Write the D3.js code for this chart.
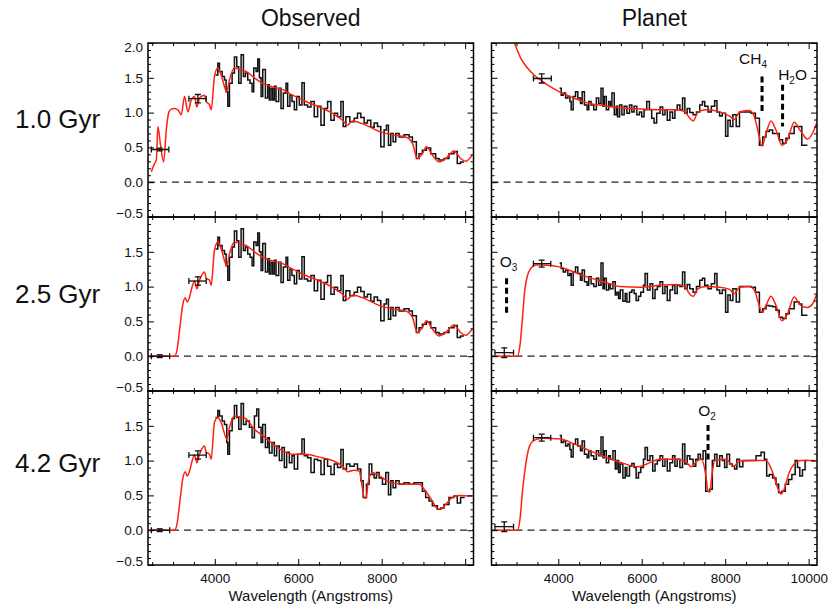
<!DOCTYPE html>
<html>
<head>
<meta charset="utf-8">
<script src="https://cdn.jsdelivr.net/npm/d3@7"></script>
<style>
  body { margin: 0; background: #fff; }
  svg { display: block; font-family: "Liberation Sans", Arial, sans-serif; }
</style>
</head>
<body>
<div id="chart"></div>
<script>
// ---- data (wavelength in Angstroms, relative flux) ----

const rowLabels = ["1.0 Gyr", "2.5 Gyr", "4.2 Gyr"];
const colTitles = ["Observed", "Planet"];

// model spectra (red)
const modelObs10 = [[2479,0.15],[2559,0.27],[2599,0.32],[2638,0.80],[2694,0.56],[2774,0.29],[2838,0.75],[2901,1.01],[2957,1.05],[3037,1.06],[3117,1.04],[3196,0.97],[3276,1.23],[3356,1.01],[3435,1.18],[3515,1.23],[3571,1.08],[3635,1.21],[3754,1.25],[3794,1.16],[3874,1.11],[3914,1.04],[3993,1.52],[4073,1.64],[4153,1.54],[4288,1.30],[4352,1.47],[4471,1.64],[4591,1.62],[4750,1.59],[4950,1.50],[5149,1.42],[5388,1.37],[5627,1.33],[5866,1.25],[6185,1.16],[6504,1.08],[6823,0.99],[7062,0.89],[7181,0.82],[7301,0.88],[7620,0.82],[7938,0.73],[8257,0.68],[8576,0.65],[8735,0.56],[8855,0.34],[8975,0.41],[9070,0.51],[9214,0.39],[9373,0.29],[9532,0.34],[9732,0.45],[9891,0.34],[10011,0.30],[10170,0.39]];
const modelObs25 = [[2400,0],[2700,0],[3037,0],[3093,0.08],[3156,0.37],[3236,0.75],[3292,0.84],[3340,0.78],[3396,0.85],[3459,1.00],[3515,1.08],[3571,0.97],[3635,1.09],[3754,1.21],[3794,1.12],[3874,1.09],[3914,1.02],[3993,1.52],[4073,1.64],[4153,1.54],[4288,1.30],[4352,1.47],[4471,1.64],[4591,1.62],[4750,1.59],[4950,1.50],[5149,1.42],[5388,1.37],[5627,1.33],[5866,1.25],[6185,1.16],[6504,1.08],[6823,0.99],[7062,0.89],[7181,0.82],[7301,0.88],[7620,0.82],[7938,0.73],[8257,0.68],[8576,0.65],[8735,0.56],[8855,0.34],[8975,0.41],[9070,0.51],[9214,0.39],[9373,0.29],[9532,0.34],[9732,0.45],[9891,0.34],[10011,0.30],[10170,0.39]];
const modelObs42 = [[2400,0],[2700,0],[3037,0],[3093,0.08],[3156,0.37],[3236,0.75],[3292,0.84],[3340,0.78],[3396,0.85],[3459,1.00],[3515,1.08],[3571,0.97],[3635,1.09],[3754,1.21],[3794,1.12],[3874,1.09],[3914,1.02],[3993,1.55],[4073,1.62],[4153,1.55],[4288,1.31],[4352,1.48],[4471,1.64],[4591,1.63],[4750,1.60],[4950,1.45],[5149,1.36],[5388,1.24],[5627,1.14],[5866,1.09],[6185,1.09],[6504,1.05],[6823,1.00],[7062,0.92],[7181,0.84],[7341,0.86],[7460,0.85],[7524,0.66],[7580,0.47],[7620,0.46],[7683,0.71],[7779,0.83],[7938,0.78],[8257,0.68],[8576,0.66],[8895,0.66],[9054,0.56],[9214,0.42],[9333,0.31],[9413,0.30],[9532,0.37],[9692,0.47],[9851,0.50],[10170,0.49]];
const modelPl10 = [[2700,2.45],[2944,2.01],[3103,1.78],[3262,1.64],[3420,1.54],[3619,1.45],[3817,1.37],[4056,1.29],[4373,1.21],[4691,1.14],[5088,1.10],[5485,1.07],[5961,1.05],[6438,1.04],[6835,1.04],[7033,1.01],[7152,0.92],[7232,0.88],[7351,1.01],[7549,1.04],[7867,1.01],[8105,0.95],[8224,0.90],[8343,1.01],[8581,1.03],[8700,0.94],[8780,0.75],[8883,0.52],[8978,0.70],[9098,0.88],[9217,0.75],[9360,0.53],[9495,0.61],[9653,0.86],[9812,0.73],[9971,0.62],[10090,0.70],[10185,0.84]];
const modelPl25 = [[2430,0],[2700,0],[3023,0],[3087,0.18],[3143,0.56],[3198,0.95],[3262,1.16],[3341,1.26],[3460,1.31],[3619,1.31],[4056,1.28],[4373,1.21],[4691,1.14],[5088,1.07],[5485,1.00],[5961,0.99],[6438,1.02],[6835,1.03],[7033,1.00],[7152,0.89],[7232,0.86],[7351,0.97],[7549,1.00],[7867,0.99],[8105,0.96],[8224,0.90],[8343,0.99],[8581,1.00],[8700,0.95],[8780,0.80],[8883,0.63],[8978,0.73],[9098,0.86],[9217,0.73],[9360,0.51],[9495,0.61],[9653,0.85],[9812,0.73],[9971,0.70],[10090,0.75],[10185,0.88]];
const modelPl42 = [[2430,0],[2700,0],[3023,0],[3087,0.18],[3142,0.56],[3222,0.95],[3301,1.19],[3420,1.29],[3619,1.32],[4056,1.31],[4373,1.24],[4770,1.14],[5167,1.04],[5564,0.96],[5882,0.91],[6120,0.95],[6438,1.02],[6835,1.02],[7073,0.97],[7192,0.91],[7311,0.99],[7430,1.02],[7533,0.80],[7589,0.56],[7630,0.55],[7684,0.80],[7748,1.00],[8026,1.02],[8200,0.92],[8343,0.99],[8661,1.00],[8978,1.00],[9137,0.83],[9256,0.61],[9336,0.52],[9415,0.59],[9534,0.83],[9653,0.95],[9812,1.00],[10169,1.00]];

// binned observations (black histograms): bin edges (one more than fluxes) and fluxes
const obsWaveA = [4017,4073,4113,4177,4232,4272,4312,4352,4416,4471,4527,4575,4631,4687,4735,4790,4846,4894,4934,4990,5030,5070,5110,5150,5213,5269,5308,5348,5388,5428,5468,5532,5587,5643,5707,5747,5802,5850,5906,5962,6026,6089,6145,6225,6305,6384,6464,6544,6623,6703,6783,6862,6942,7022,7078,7141,7237,7341,7420,7500,7580,7659,7739,7819,7899,7978,8058,8114,8162,8217,8273,8337,8417,8536,8656,8735,8831,8895,8975,9070,9174,9293,9373,9493,9612,9732,9811,9891,9971];
const obsFluxA = [1.54,1.71,1.59,1.52,1.47,1.30,1.09,1.42,1.57,1.80,1.66,1.42,1.83,1.52,1.57,1.47,1.42,1.30,1.64,1.59,1.77,1.50,1.23,1.62,1.21,1.40,1.18,1.35,1.18,1.38,1.16,1.35,1.06,1.28,1.42,1.09,1.25,1.16,1.04,1.23,1.11,1.43,1.11,1.08,1.16,0.94,1.09,0.82,1.06,1.16,0.89,0.99,0.94,1.16,0.80,0.94,0.87,0.92,0.99,0.93,0.85,0.89,0.79,0.85,0.80,0.51,0.75,0.82,0.53,0.70,0.58,0.70,0.65,0.68,0.65,0.58,0.34,0.41,0.46,0.49,0.41,0.34,0.32,0.34,0.41,0.44,0.27,0.29];
const obsWaveB = [4017,4073,4113,4177,4232,4288,4312,4352,4416,4471,4527,4575,4631,4687,4750,4830,4894,4950,5005,5053,5109,5149,5213,5268,5308,5372,5428,5484,5547,5611,5667,5723,5787,5850,5906,5986,6089,6145,6225,6305,6384,6464,6544,6623,6703,6783,6862,6942,7022,7078,7157,7237,7341,7420,7500,7556,7636,7699,7763,7819,7875,7939,8018,8098,8162,8217,8273,8337,8417,8536,8656,8775,8895,8975,9054,9134,9214,9333,9413,9493,9612,9732,9811,9891,9990];
const obsFluxB = [1.62,1.72,1.64,1.57,1.52,1.26,1.09,1.43,1.60,1.79,1.62,1.45,1.82,1.52,1.57,1.48,1.33,1.64,1.74,1.48,1.26,1.52,1.19,1.33,1.11,1.26,1.07,1.21,1.00,1.19,0.90,1.12,0.97,1.07,0.88,1.09,1.31,1.07,1.04,0.83,1.02,1.00,0.80,1.02,0.92,0.80,0.95,0.90,1.16,0.88,0.95,0.92,0.95,0.88,0.71,0.47,0.66,0.95,0.80,0.75,0.83,0.75,0.66,0.83,0.51,0.71,0.61,0.71,0.66,0.68,0.66,0.68,0.68,0.56,0.47,0.42,0.35,0.30,0.32,0.37,0.47,0.49,0.39,0.47];
const plWave10 = [4032,4071,4119,4175,4230,4278,4310,4357,4413,4468,4532,4572,4627,4691,4731,4786,4850,4913,4969,5024,5072,5104,5151,5207,5247,5286,5342,5390,5421,5469,5525,5580,5644,5707,5763,5818,5882,5945,6001,6056,6120,6184,6239,6295,6358,6438,6501,6557,6612,6676,6739,6795,6850,6914,6978,7033,7089,7152,7232,7311,7390,7454,7510,7589,7668,7748,7803,7867,7930,8010,8065,8121,8184,8264,8343,8423,8502,8621,8724,8820,8899,8978,9058,9137,9217,9296,9375,9455,9534,9653,9772,9836,9971];
const plFlux10 = [1.35,1.25,1.28,1.21,1.23,1.16,1.04,1.23,1.30,1.21,1.13,1.30,1.11,1.04,1.16,1.11,1.04,1.21,1.13,1.35,1.09,1.23,1.04,1.16,1.09,1.28,0.97,1.09,0.94,1.11,0.97,1.09,0.99,1.11,1.01,1.09,0.97,1.01,0.94,1.04,1.16,1.04,0.92,0.85,0.99,1.08,0.97,1.04,0.89,1.01,0.92,1.04,1.11,1.04,1.21,0.99,1.06,1.00,0.97,1.01,1.11,1.16,1.09,1.01,1.09,1.17,1.01,0.95,0.99,0.66,0.89,0.80,0.97,0.80,1.01,1.01,1.01,0.99,0.92,0.53,0.65,0.73,0.75,0.70,0.70,0.61,0.56,0.63,0.70,0.80,0.80,0.53];
const plWave25 = [4032,4071,4119,4175,4230,4278,4310,4357,4413,4468,4532,4572,4627,4691,4731,4786,4850,4913,4969,5024,5072,5104,5151,5207,5247,5310,5366,5405,5445,5485,5548,5604,5644,5707,5763,5818,5866,5922,5977,6041,6080,6136,6199,6263,6319,6374,6438,6501,6557,6612,6676,6739,6795,6850,6914,6978,7033,7089,7152,7232,7311,7390,7454,7510,7589,7668,7748,7803,7867,7930,8010,8065,8121,8184,8264,8343,8423,8502,8621,8724,8820,8899,8978,9058,9137,9217,9296,9375,9455,9534,9653,9772,9836,9971];
const plFlux25 = [1.34,1.26,1.21,1.24,1.16,1.19,1.02,1.21,1.28,1.19,1.09,1.24,1.07,1.02,1.14,1.04,1.00,1.12,1.02,1.34,0.97,1.12,0.95,1.04,0.97,1.07,0.88,0.92,0.83,0.95,0.79,0.90,0.78,0.92,0.95,0.90,0.80,0.86,0.92,1.02,1.19,0.95,1.04,0.83,0.96,1.00,1.07,0.90,1.00,0.80,0.95,1.02,0.90,1.02,1.00,1.21,0.97,1.03,0.97,0.92,1.00,1.09,1.12,1.02,0.97,1.04,1.19,0.95,0.90,0.95,0.63,0.88,0.80,0.97,0.78,1.00,1.00,1.00,0.99,0.92,0.63,0.68,0.73,0.72,0.71,0.66,0.56,0.54,0.61,0.68,0.78,0.75,0.59];
const plWave42 = [4032,4071,4119,4175,4230,4278,4310,4357,4413,4468,4532,4572,4627,4691,4731,4786,4850,4913,4969,5024,5072,5104,5151,5207,5247,5310,5366,5405,5445,5485,5548,5604,5644,5707,5763,5818,5866,5922,5977,6041,6080,6136,6199,6263,6319,6374,6438,6501,6557,6612,6676,6739,6795,6850,6914,6978,7033,7089,7152,7232,7295,7351,7406,7470,7533,7629,7692,7748,7803,7867,7930,7986,8041,8105,8169,8224,8280,8343,8423,8502,8621,8740,8859,8939,8994,9058,9137,9217,9280,9360,9439,9518,9598,9677,9733,9788,9852,9915,9971];
const plFlux42 = [1.36,1.26,1.28,1.21,1.24,1.16,1.05,1.24,1.31,1.21,1.14,1.28,1.09,1.04,1.14,1.07,1.02,1.14,1.07,1.34,1.04,1.14,0.97,1.07,1.02,1.14,0.88,1.00,0.83,0.95,0.75,0.90,0.78,0.92,0.96,0.90,0.75,0.83,0.90,1.02,1.19,1.00,1.07,0.85,0.95,1.00,1.07,0.92,1.02,0.85,0.97,1.07,0.92,1.02,0.90,1.24,0.95,1.07,1.02,0.92,1.02,1.09,1.02,1.14,0.56,0.59,1.00,1.09,0.92,1.07,1.00,0.90,1.09,0.95,0.92,0.88,1.02,0.91,1.00,1.00,1.00,1.07,1.12,1.02,0.78,0.80,0.75,0.66,0.54,0.56,0.66,0.73,0.80,1.00,0.90,0.78,0.87,1.00];

// photometric points: [wave, flux, waveLo, waveHi, fluxErr]
const photObs10 = [[2680,0.47,2480,2900,0.02],[3595,1.20,3380,3795,0.06]];
const photObs25 = [[2680,0.00,2480,2920,0.02],[3595,1.08,3380,3795,0.06]];
const photObs42 = [[2680,0.00,2480,2920,0.02],[3595,1.08,3380,3795,0.06]];
const photPl10 = [[3603,1.49,3405,3833,0.065]];
const photPl25 = [[2706,0.05,2483,2928,0.07],[3603,1.33,3405,3820,0.05]];
const photPl42 = [[2706,0.05,2483,2928,0.07],[3603,1.33,3405,3820,0.05]];

// absorption features marked in the planet spectra
const featureNames = [["CH", "4", ""], ["H", "2", "O"], ["O", "3", ""], ["O", "2", ""]];
const featureRow = [0, 0, 1, 2];
const featureWave = [8883, 9375, 2761, 7589];
const featureRange = [[1.01, 1.52], [0.80, 1.40], [0.61, 1.12], [1.00, 1.51]];

const yLabelsTop = [-0.5, 0, 0.5, 1, 1.5, 2];
const yLabelsLower = [-0.5, 0, 0.5, 1, 1.5];
const xLabelsLeft = [4000, 6000, 8000];
const xLabelsRight = [4000, 6000, 8000, 10000];
const xMajor = [4000, 6000, 8000, 10000];
const yMajor = [-0.5, 0, 0.5, 1, 1.5, 2];

// ---- layout ----
const width = 831, height = 607;
const cols = [[148, 473.5], [491.5, 817]];
const rows = [[43, 217], [217, 391], [391, 565]];
const featureNudge = [[-9, 12], [10, 5], [2, 11], [-1, 9]];

const panels = [
  { r: 0, c: 0, model: modelObs10, wave: obsWaveA, flux: obsFluxA, phot: photObs10 },
  { r: 1, c: 0, model: modelObs25, wave: obsWaveA, flux: obsFluxA, phot: photObs25 },
  { r: 2, c: 0, model: modelObs42, wave: obsWaveB, flux: obsFluxB, phot: photObs42 },
  { r: 0, c: 1, model: modelPl10, wave: plWave10, flux: plFlux10, phot: photPl10 },
  { r: 1, c: 1, model: modelPl25, wave: plWave25, flux: plFlux25, phot: photPl25 },
  { r: 2, c: 1, model: modelPl42, wave: plWave42, flux: plFlux42, phot: photPl42 }
];

const svg = d3.select("#chart").append("svg")
  .attr("width", width)
  .attr("height", height)
  .attr("viewBox", `0 0 ${width} ${height}`);

const defs = svg.append("defs");
const fmt = d3.format(".1f");
const tickFont = 13.5;

function styleAxis(sel) {
  sel.select(".domain").remove();
  sel.selectAll(".tick line").attr("stroke", "#000").attr("stroke-width", 1);
  sel.attr("font-size", tickFont)
    .attr("font-family", "\"Liberation Sans\", Arial, sans-serif");
  sel.selectAll("text").attr("fill", "#111");
}

panels.forEach((p, i) => {
  const [x0, x1] = cols[p.c];
  const [y0, y1] = rows[p.r];

  const x = d3.scaleLinear().domain([2400, 10200]).range([x0, x1]);
  const y = d3.scaleLinear().domain([-0.5, 2.0]).range([y1, y0]);

  const g = svg.append("g");

  defs.append("clipPath").attr("id", `clip${i}`)
    .append("rect")
    .attr("x", x0).attr("y", y0)
    .attr("width", x1 - x0).attr("height", y1 - y0);

  // zero line
  g.append("line")
    .attr("x1", x0).attr("x2", x1)
    .attr("y1", y(0)).attr("y2", y(0))
    .attr("stroke", "#222")
    .attr("stroke-width", 1.3)
    .attr("stroke-dasharray", "7,5");

  const plot = g.append("g").attr("clip-path", `url(#clip${i})`);

  // binned data as a histogram
  const n = p.flux.length;
  const steps = p.wave.slice(0, n + 1).map((w, k) => [w, p.flux[Math.min(k, n - 1)]]);
  plot.append("path")
    .datum(steps)
    .attr("fill", "none")
    .attr("stroke", "#111")
    .attr("stroke-width", 1.5)
    .attr("d", d3.line().x(d => x(d[0])).y(d => y(d[1])).curve(d3.curveStepAfter));

  // model spectrum
  plot.append("path")
    .datum(p.model)
    .attr("fill", "none")
    .attr("stroke", "#ff2010")
    .attr("stroke-width", 1.5)
    .attr("d", d3.line().x(d => x(d[0])).y(d => y(d[1])).curve(d3.curveMonotoneX));

  // photometric points with error bars
  const eb = plot.append("g").attr("stroke", "#111").attr("stroke-width", 1.3);
  p.phot.forEach(d => {
    const [w, f, wl, wh, e] = d;
    eb.append("line").attr("x1", x(wl)).attr("x2", x(wh)).attr("y1", y(f)).attr("y2", y(f));
    eb.append("line").attr("x1", x(wl)).attr("x2", x(wl)).attr("y1", y(f) - 3).attr("y2", y(f) + 3);
    eb.append("line").attr("x1", x(wh)).attr("x2", x(wh)).attr("y1", y(f) - 3).attr("y2", y(f) + 3);
    eb.append("line").attr("x1", x(w)).attr("x2", x(w)).attr("y1", y(f - e)).attr("y2", y(f + e));
    eb.append("line").attr("x1", x(w) - 3).attr("x2", x(w) + 3).attr("y1", y(f - e)).attr("y2", y(f - e));
    eb.append("line").attr("x1", x(w) - 3).attr("x2", x(w) + 3).attr("y1", y(f + e)).attr("y2", y(f + e));
  });

  // ticks, all pointing inward
  const xMinor = x.ticks(16).filter(t => !xMajor.includes(t));
  const yMinor = y.ticks(25).filter(t => !yMajor.some(m => Math.abs(m - t) < 1e-6));
  const xLabels = p.r === 2 ? (p.c === 0 ? xLabelsLeft : xLabelsRight) : [];
  const yLabels = p.c === 0 ? (p.r === 0 ? yLabelsTop : yLabelsLower) : [];

  g.append("g").attr("transform", `translate(0,${y1})`)
    .call(d3.axisBottom(x).tickValues(xMinor).tickSize(-3).tickFormat(""))
    .call(styleAxis);
  g.append("g").attr("transform", `translate(0,${y1})`)
    .call(d3.axisBottom(x).tickValues(xMajor).tickSize(-6).tickPadding(8)
      .tickFormat(d => xLabels.includes(d) ? d3.format("d")(d) : ""))
    .call(styleAxis);
  g.append("g").attr("transform", `translate(0,${y0})`)
    .call(d3.axisTop(x).tickValues(xMinor).tickSize(-3).tickFormat(""))
    .call(styleAxis);
  g.append("g").attr("transform", `translate(0,${y0})`)
    .call(d3.axisTop(x).tickValues(xMajor).tickSize(-6).tickFormat(""))
    .call(styleAxis);

  g.append("g").attr("transform", `translate(${x0},0)`)
    .call(d3.axisLeft(y).tickValues(yMinor).tickSize(-3).tickFormat(""))
    .call(styleAxis);
  g.append("g").attr("transform", `translate(${x0},0)`)
    .call(d3.axisLeft(y).tickValues(yMajor).tickSize(-6).tickPadding(5)
      .tickFormat(d => yLabels.includes(d) ? fmt(d) : ""))
    .call(styleAxis)
    .call(s => s.selectAll("text").attr("y", d => d === -0.5 ? -4 : d === 2 ? 4 : 0));
  g.append("g").attr("transform", `translate(${x1},0)`)
    .call(d3.axisRight(y).tickValues(yMinor).tickSize(-3).tickFormat(""))
    .call(styleAxis);
  g.append("g").attr("transform", `translate(${x1},0)`)
    .call(d3.axisRight(y).tickValues(yMajor).tickSize(-6).tickFormat(""))
    .call(styleAxis);

  // frame
  g.append("rect")
    .attr("x", x0).attr("y", y0)
    .attr("width", x1 - x0).attr("height", y1 - y0)
    .attr("fill", "none")
    .attr("stroke", "#000")
    .attr("stroke-width", 1.5);

  if (p.r === 2) {
    g.append("text")
      .attr("x", (x0 + x1) / 2)
      .attr("y", 601)
      .attr("text-anchor", "middle")
      .attr("font-size", 15)
      .attr("fill", "#111")
      .text("Wavelength (Angstroms)");
  }

  // feature markers (planet column only)
  if (p.c === 1) {
    featureRow.forEach((row, k) => {
      if (row !== p.r) return;
      const fx = x(featureWave[k]);
      const [lo, hi] = featureRange[k];
      g.append("line")
        .attr("x1", fx).attr("x2", fx)
        .attr("y1", y(hi)).attr("y2", y(lo))
        .attr("stroke", "#000")
        .attr("stroke-width", 3)
        .attr("stroke-dasharray", "6,3.5");
      const [dx, dy] = featureNudge[k];
      const [main, sub, tail] = featureNames[k];
      const t = g.append("text")
        .attr("x", fx + dx)
        .attr("y", y(hi) - dy)
        .attr("text-anchor", "middle")
        .attr("font-size", 15.5)
        .attr("fill", "#111");
      t.append("tspan").text(main);
      t.append("tspan").attr("font-size", 10).attr("dy", 4).text(sub);
      if (tail) t.append("tspan").attr("dy", -4).text(tail);
    });
  }
});

// column titles
colTitles.forEach((t, c) => {
  svg.append("text")
    .attr("x", (cols[c][0] + cols[c][1]) / 2)
    .attr("y", 26)
    .attr("text-anchor", "middle")
    .attr("font-size", 23)
    .attr("fill", "#111")
    .text(t);
});

// row labels
const rowBaselines = [128, 303, 472];
rowLabels.forEach((t, r) => {
  svg.append("text")
    .attr("x", 15)
    .attr("y", rowBaselines[r])
    .attr("font-size", 26)
    .attr("fill", "#111")
    .text(t);
});
</script>
</body>
</html>
